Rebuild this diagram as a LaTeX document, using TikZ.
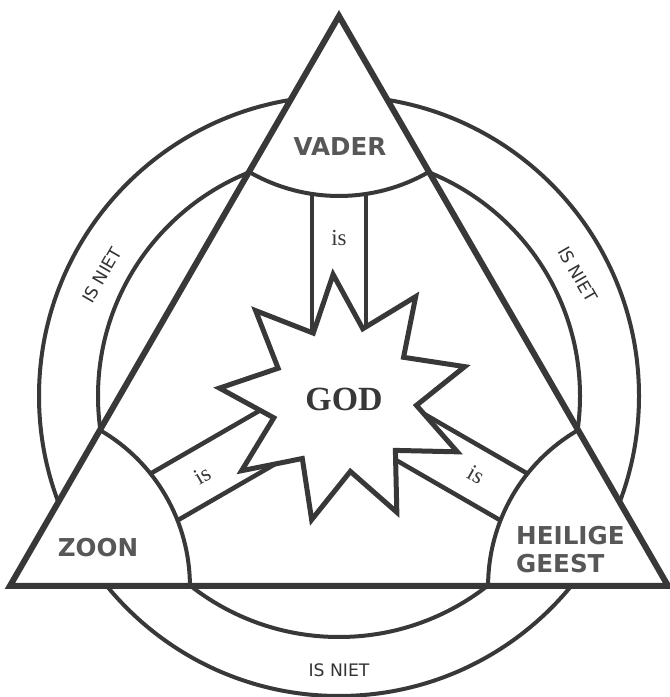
\documentclass[tikz,border=0pt]{standalone}
\usepackage{fontspec}
\setmainfont{Liberation Serif}
\setsansfont{DejaVu Sans}
\usetikzlibrary{shapes.geometric,calc}
\definecolor{ink}{HTML}{383838}
\definecolor{lblgray}{HTML}{575757}
\definecolor{nietink}{HTML}{333333}
\tikzset{
  ring/.style={draw=ink,line width=4bp},
  tri/.style={draw=ink,line width=6bp,line join=miter},
  bandline/.style={draw=ink,line width=4.5bp},
  cornerarc/.style={draw=ink,line width=4bp},
  person/.style={font=\sffamily\bfseries\fontsize{24.7}{28}\selectfont,
    text=lblgray,align=left,inner sep=0pt},
  islbl/.style={font=\fontsize{23}{26}\selectfont,text=ink,inner sep=0pt},
  nietlbl/.style={font=\sffamily\fontsize{17.3}{20}\selectfont,text=nietink,inner sep=0pt},
  godstar/.style={star,star points=9,star point ratio=1.72,minimum size=250bp,
    shape border rotate=5,inner sep=0pt,draw=ink,fill=white,line width=5bp,
    line join=miter,font=\bfseries\fontsize{34}{36}\selectfont,text=ink},
}

\begin{document}
\begin{tikzpicture}[x=1bp,y=1bp]
  \useasboundingbox (0,0) rectangle (670,697);
  \coordinate (C) at (339,301);
  \coordinate (top) at ($(C)+(90:380)$);
  \coordinate (left) at ($(C)+(210:380)$);
  \coordinate (right) at ($(C)+(330:380)$);
  % rings, hidden inside the triangle
  \draw[ring] (C) circle[radius=300];
  \draw[ring] (C) circle[radius=241];
  \fill[white] (top) -- (left) -- (right) -- cycle;
  \foreach \a/\r in {90/0,210/30,330/-30}{
    \begin{scope}[shift={(C)},rotate=\a]
      \draw[bandline] (0,27) -- (202,27) (0,-27) -- (202,-27);
    \end{scope}
    \node[islbl,rotate=\r] at ($(C)+(\a:158)$) {is};
  }
  \draw[cornerarc] ($(top)+(240:180)$) arc[start angle=240,end angle=300,radius=180];
  \draw[cornerarc] ($(left)+(0:180)$) arc[start angle=0,end angle=60,radius=180];
  \draw[cornerarc] ($(right)+(120:180)$) arc[start angle=120,end angle=180,radius=180];
  \node[godstar] (god) at (344,298) {GOD};
  \draw[tri] (top) -- (left) -- (right) -- cycle;
  \node[person] (vader) at (340,550) {VADER};
  \node[person] (zoon) at (98,149) {ZOON};
  \node[person,anchor=west] (geest) at (516,147.5) {HEILIGE\\GEEST};
  \node[nietlbl,rotate=60] (niet1) at ($(C)+(153:266)$) {IS NIET};
  \node[nietlbl,rotate=-60] (niet2) at ($(C)+(27:268)$) {IS NIET};
  \node[nietlbl] (niet3) at ($(C)+(270:274)$) {IS NIET};
\end{tikzpicture}
\end{document}
